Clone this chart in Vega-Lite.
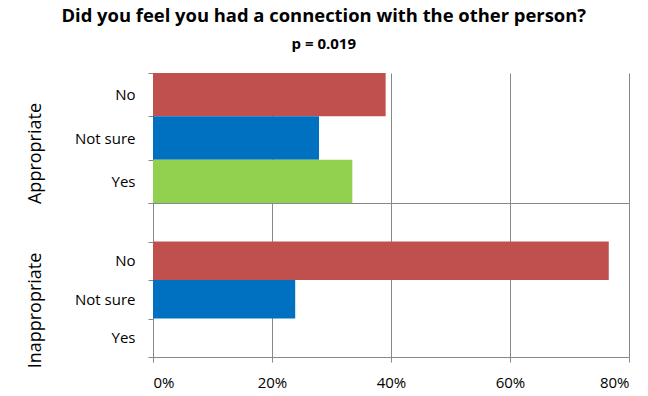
{
  "$schema": "https://vega.github.io/schema/vega-lite/v6.json",
  "padding": {"left": 25, "top": 6, "right": 5, "bottom": 5},
  "bounds": "flush",
  "title": {
    "text": "Did you feel you had a connection with the other person?",
    "subtitle": "p = 0.019",
    "font": "Open Sans",
    "fontSize": 18.4,
    "fontWeight": "bold",
    "color": "#000000",
    "subtitleFont": "Open Sans",
    "subtitleFontSize": 15,
    "subtitleFontWeight": "bold",
    "subtitleColor": "#000000",
    "subtitlePadding": 12,
    "anchor": "middle",
    "dx": -4,
    "offset": 14
  },
  "data": {
    "values": [
      {"group": "Appropriate", "response": "No", "value": 0.391},
      {"group": "Appropriate", "response": "Not sure", "value": 0.279},
      {"group": "Appropriate", "response": "Yes", "value": 0.335},
      {"group": "Inappropriate", "response": "No", "value": 0.766},
      {"group": "Inappropriate", "response": "Not sure", "value": 0.239},
      {"group": "Inappropriate", "response": "Yes", "value": 0}
    ]
  },
  "spacing": 0,
  "resolve": {"scale": {"x": "independent", "y": "independent", "color": "shared"}, "axis": {"x": "independent", "y": "independent"}},
  "vconcat": [
    {
      "width": 476,
      "height": 130,
      "transform": [{"filter": "datum.group === 'Appropriate'"}],
      "mark": {"type": "bar"},
      "encoding": {
        "y": {
          "field": "response",
          "type": "nominal",
          "scale": {"domain": ["No", "Not sure", "Yes"], "paddingInner": 0, "paddingOuter": 0},
          "axis": {"title": "Appropriate", "titleX": -118, "titleY": 80, "titleAlign": "center", "titleBaseline": "middle"}
        },
        "x": {
          "field": "value",
          "type": "quantitative",
          "scale": {"domain": [0, 0.8], "nice": false},
          "axis": {"title": null, "labels": false, "ticks": false, "domain": true, "grid": true, "values": [0, 0.2, 0.4, 0.6, 0.8]}
        },
        "color": {
          "field": "response",
          "type": "nominal",
          "scale": {"domain": ["No", "Not sure", "Yes"], "range": ["#C0504D", "#0070C0", "#92D050"]},
          "legend": null
        }
      }
    },
    {
      "width": 476,
      "height": 154,
      "transform": [{"filter": "datum.group === 'Inappropriate'"}],
      "mark": {"type": "bar"},
      "encoding": {
        "y": {
          "field": "response",
          "type": "nominal",
          "scale": {"domain": [" ", "No", "Not sure", "Yes"], "paddingInner": 0, "paddingOuter": 0},
          "axis": {"title": "Inappropriate", "titleX": -118, "titleY": 107, "titleAlign": "center", "titleBaseline": "middle"}
        },
        "x": {
          "field": "value",
          "type": "quantitative",
          "scale": {"domain": [0, 0.8], "nice": false},
          "axis": {"title": null, "format": ".0%", "grid": true, "values": [0, 0.2, 0.4, 0.6, 0.8], "labelPadding": 13}
        },
        "color": {
          "field": "response",
          "type": "nominal",
          "scale": {"domain": ["No", "Not sure", "Yes"], "range": ["#C0504D", "#0070C0", "#92D050"]},
          "legend": null
        }
      }
    }
  ],
  "config": {
    "view": {"stroke": null},
    "axis": {
      "labelFont": "Open Sans",
      "labelFontSize": 15,
      "labelColor": "#000000",
      "titleFont": "Open Sans",
      "titleFontSize": 18,
      "titleFontWeight": "normal",
      "titleColor": "#000000",
      "domainColor": "#888888",
      "tickColor": "#888888",
      "gridColor": "#888888",
      "gridOpacity": 1,
      "tickSize": 5,
      "tickBand": "extent"
    },
    "axisY": {"labelPadding": 13}
  }
}
